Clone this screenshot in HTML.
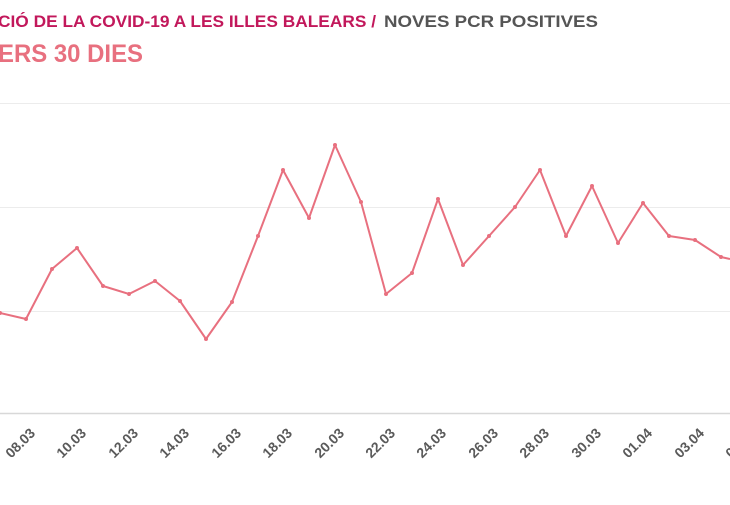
<!DOCTYPE html><html><head><style>body{margin:0;background:#fff;width:730px;height:500px;overflow:hidden;font-family:"Liberation Sans",sans-serif}</style></head><body>
<svg width="730" height="500" xmlns="http://www.w3.org/2000/svg">
<text x="-2" y="27" font-size="17" font-weight="bold" fill="#c2185b" textLength="378" lengthAdjust="spacingAndGlyphs">CIÓ DE LA COVID-19 A LES ILLES BALEARS /</text>
<text x="384" y="27" font-size="17" font-weight="bold" fill="#555" textLength="214" lengthAdjust="spacingAndGlyphs">NOVES PCR POSITIVES</text>
<text x="-2" y="62" font-size="25" font-weight="bold" fill="#e8707f" textLength="145" lengthAdjust="spacingAndGlyphs">ERS 30 DIES</text>
<g stroke="#ececec" stroke-width="1"><line x1="0" y1="103.5" x2="730" y2="103.5"/><line x1="0" y1="207.5" x2="730" y2="207.5"/><line x1="0" y1="311.5" x2="730" y2="311.5"/></g>
<line x1="0" y1="413.5" x2="730" y2="413.5" stroke="#d8d8d8" stroke-width="1.5"/>
<polyline fill="none" stroke="#e8707f" stroke-width="2" stroke-linejoin="round" points="0,313 26,319 52,269 77,248 103,286 129,294 155,281 180,301 206,339 232,302 258,236 283,170 309,218 335,145 361,202 386,294 412,273 438,199 463,265 489,236 515,207 540,170 566,236 592,186 618,243 643,203 669,236 695,240 721,257 730,259"/>
<g fill="#e8707f"><circle cx="0" cy="313" r="2"/><circle cx="26" cy="319" r="2"/><circle cx="52" cy="269" r="2"/><circle cx="77" cy="248" r="2"/><circle cx="103" cy="286" r="2"/><circle cx="129" cy="294" r="2"/><circle cx="155" cy="281" r="2"/><circle cx="180" cy="301" r="2"/><circle cx="206" cy="339" r="2"/><circle cx="232" cy="302" r="2"/><circle cx="258" cy="236" r="2"/><circle cx="283" cy="170" r="2"/><circle cx="309" cy="218" r="2"/><circle cx="335" cy="145" r="2"/><circle cx="361" cy="202" r="2"/><circle cx="386" cy="294" r="2"/><circle cx="412" cy="273" r="2"/><circle cx="438" cy="199" r="2"/><circle cx="463" cy="265" r="2"/><circle cx="489" cy="236" r="2"/><circle cx="515" cy="207" r="2"/><circle cx="540" cy="170" r="2"/><circle cx="566" cy="236" r="2"/><circle cx="592" cy="186" r="2"/><circle cx="618" cy="243" r="2"/><circle cx="643" cy="203" r="2"/><circle cx="669" cy="236" r="2"/><circle cx="695" cy="240" r="2"/><circle cx="721" cy="257" r="2"/></g>
<g font-size="14" font-weight="bold" fill="#5a5a5a" text-anchor="end">
<text transform="translate(36,434) rotate(-45)">08.03</text>
<text transform="translate(87,434) rotate(-45)">10.03</text>
<text transform="translate(139,434) rotate(-45)">12.03</text>
<text transform="translate(190,434) rotate(-45)">14.03</text>
<text transform="translate(242,434) rotate(-45)">16.03</text>
<text transform="translate(293,434) rotate(-45)">18.03</text>
<text transform="translate(345,434) rotate(-45)">20.03</text>
<text transform="translate(396,434) rotate(-45)">22.03</text>
<text transform="translate(447,434) rotate(-45)">24.03</text>
<text transform="translate(499,434) rotate(-45)">26.03</text>
<text transform="translate(550,434) rotate(-45)">28.03</text>
<text transform="translate(602,434) rotate(-45)">30.03</text>
<text transform="translate(653,434) rotate(-45)">01.04</text>
<text transform="translate(705,434) rotate(-45)">03.04</text>
<text transform="translate(756,434) rotate(-45)">05.04</text>
</g>
</svg></body></html>
